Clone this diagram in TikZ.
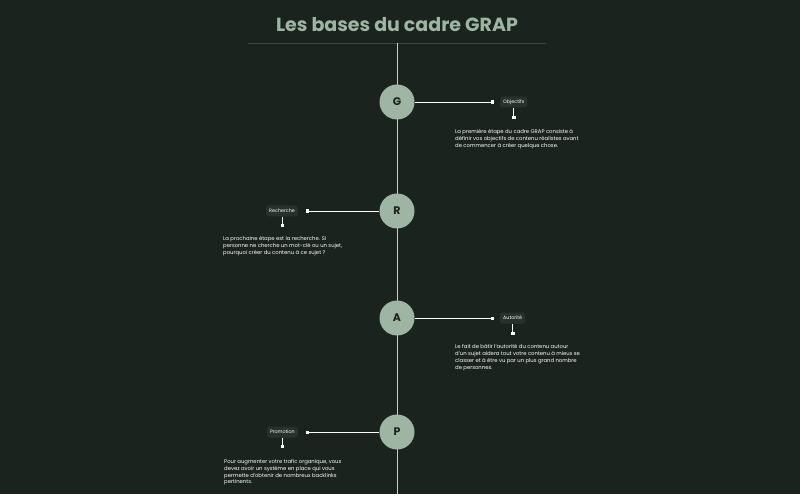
\documentclass[tikz,border=0pt]{standalone}
\usepackage{fontspec}
\setmainfont{Poppins}
\usepackage{xcolor}
\usetikzlibrary{positioning,arrows.meta}

\definecolor{bg}{HTML}{1B231F}
\definecolor{sage}{HTML}{9DB5A2}
\definecolor{tagbg}{HTML}{28322D}
\definecolor{rule}{HTML}{3E4843}
\definecolor{spine}{HTML}{C9CCCA}

\tikzset{
  letter/.style={circle, fill=sage, minimum size=35pt, inner sep=0pt, text=bg,
    font=\bfseries\fontsize{11}{11}\selectfont},
  tag/.style={fill=tagbg, rounded corners=2.5pt, text=white, inner sep=3pt,
    minimum height=11pt, font=\fontsize{4.8}{5}\selectfont},
  desc/.style={text=white, align=left, inner sep=0pt, anchor=north west,
    font=\fontsize{5.3}{6.9}\selectfont},
  link/.style={draw=white, line width=0.6pt, -{Square[length=3pt,width=3pt]}}
}

\begin{document}
\begin{tikzpicture}[x=1pt, y=-1pt]
    \fill[bg] (0,0) rectangle (800,494);
    \useasboundingbox (0,0) rectangle (800,494);

    % Title
    \node[text=sage, font=\bfseries\fontsize{19}{19}\selectfont] (title) at (397,25) {Les bases du cadre GRAP};
    \coordinate (ruleL) at (248,43);
    \coordinate (ruleR) at (546,43);
    \coordinate (top) at (397,43);
    \coordinate (bottom) at (397,494);
    \draw[rule, line width=0.7pt] (ruleL) -- (ruleR);
    \draw[spine, line width=0.8pt] (top) -- (bottom);

    % Nodes
    \node[letter] (G) at (397,102) {G};
    \node[letter] (R) at (397,211) {R};
    \node[letter] (A) at (397,318) {A};
    \node[letter] (P) at (397,432) {P};

    \coordinate (tipG) at (494,102);
    \coordinate (tipR) at (306,211);
    \coordinate (tipA) at (494,318);
    \coordinate (tipP) at (306,432);

    \node[tag, right=6pt of tipG] (objG) {Objectifs};
    \node[tag, left=8pt of tipR] (objR) {Recherche};
    \node[tag, right=6pt of tipA] (objA) {Autorité};
    \node[tag, left=8pt of tipP] (objP) {Promotion};

    \coordinate (dotG) at (objG.center |- 0,119);
    \coordinate (dotR) at (objR.center |- 0,227);
    \coordinate (dotA) at (objA.center |- 0,335);
    \coordinate (dotP) at (objP.center |- 0,448);

    \node[desc] (txtG) at (455,129) {La première étape du cadre GRAP consiste à\\définir vos objectifs de contenu réalistes avant\\de commencer à créer quelque chose.};
    \node[desc] (txtR) at (223,236) {La prochaine étape est la recherche. Si\\personne ne cherche un mot-clé ou un sujet,\\pourquoi créer du contenu à ce sujet ?};
    \node[desc] (txtA) at (455,344) {Le fait de bâtir l'autorité du contenu autour\\d'un sujet aidera tout votre contenu à mieux se\\classer et à être vu par un plus grand nombre\\de personnes.};
    \node[desc] (txtP) at (224,459) {Pour augmenter votre trafic organique, vous\\devez avoir un système en place qui vous\\permette d'obtenir de nombreux backlinks\\pertinents.};

    % Arrows
    \draw[link] (G) -- (tipG);
    \draw[link] (R) -- (tipR);
    \draw[link] (A) -- (tipA);
    \draw[link] (P) -- (tipP);
    \draw[link] (objG) -- (dotG);
    \draw[link] (objR) -- (dotR);
    \draw[link] (objA) -- (dotA);
    \draw[link] (objP) -- (dotP);
\end{tikzpicture}
\end{document}
